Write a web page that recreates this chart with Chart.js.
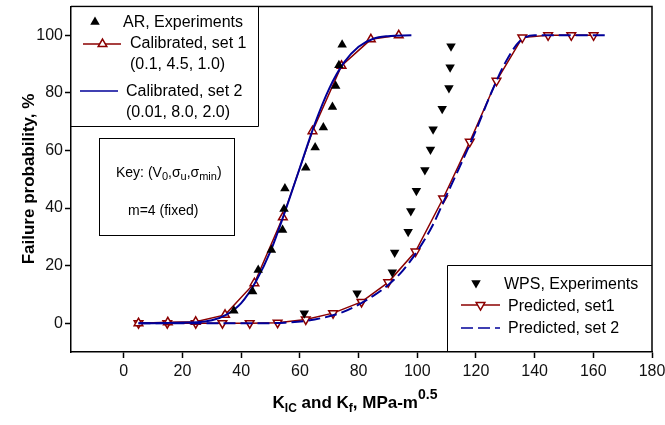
<!DOCTYPE html>
<html lang="en">
  <head>
    <meta charset="UTF-8" />
    <title>Failure probability</title>
    <script src="https://cdn.jsdelivr.net/npm/chart.js"></script>
    <style>
      body { margin: 0; background: #fff; }
      #wrap { width: 665px; height: 425px; }
    </style>
  </head>
  <body>
    <div id="wrap"><canvas id="chart"></canvas></div>
    <script>
      // AR, experiments (filled up triangles)
      const arX = [74.4, 73.3, 72.2, 71.1, 68.0, 65.2, 62.0, 54.9, 54.6, 54.1, 50.3, 45.8, 43.9, 37.5];
      const arY = [96.7, 89.6, 82.4, 75.1, 68.0, 61.0, 54.0, 46.8, 39.7, 32.4, 25.4, 18.5, 11.0, 4.3];

      // Calibrated, set 1 (red, open up triangles)
      const calib1X = [5, 15, 24.5, 34.5, 44.5, 54.2, 64.3, 74.2, 84.2, 93.7];
      const calib1Y = [0, 0.3, 0.5, 2.9, 13.9, 36.8, 66.7, 89.4, 98.6, 100];

      // Calibrated, set 2 (blue solid)
      const calib2X = [5, 25, 30, 35, 40, 45, 50, 55, 60, 65, 70, 75, 80, 85, 90, 98];
      const calib2Y = [0, 0.3, 1, 3, 7, 14.5, 25, 39, 54, 69, 81.5, 90.5, 96, 98.8, 99.7, 100];

      // WPS, experiments (filled down triangles)
      const wpsX = [111.5, 111.2, 110.8, 108.5, 105.4, 104.5, 102.6, 99.7, 97.8, 96.9, 92.3, 91.5, 79.5, 61.5];
      const wpsY = [96.2, 88.9, 81.7, 74.5, 67.4, 60.3, 53.2, 46.0, 39.0, 31.8, 24.6, 17.7, 10.4, 3.5];

      // Predicted, set1 (red, open down triangles)
      const pred1X = [5, 14.8, 24.5, 33.6, 42.9, 52.4, 62, 71.3, 81, 90.1, 99.4, 108.8, 117.9, 127, 135.8, 144.6, 152.5, 160.1];
      const pred1Y = [0, 0, 0, 0, 0, 0.2, 1.3, 3.5, 7.4, 14.2, 24.9, 43.3, 63, 84.2, 99.2, 100, 100, 100];

      // Predicted, set 2 (blue dashed)
      const pred2X = [5, 30, 45, 55, 65, 75, 85, 90, 95, 100, 105, 110, 115, 120, 125, 130, 135, 140, 150, 164];
      const pred2Y = [0, 0, 0, 0.2, 1.3, 4, 9.5, 13.2, 18.2, 25, 33.5, 44.5, 55.5, 67, 79.5, 90.5, 98, 100, 100, 100];

      const xTicks = [0, 20, 40, 60, 80, 100, 120, 140, 160, 180];
      const yTicks = [0, 20, 40, 60, 80, 100];

      const RED = "#8b0000";
      const BLUE = "#000099";
      const FONT = "'Liberation Sans', Arial, sans-serif";

      function pts(xs, ys) {
        return xs.map((x, i) => ({ x: x, y: ys[i] }));
      }

      function tri(ctx, x, y, r, down) {
        const s = down ? -1 : 1;
        const h = r * Math.sin(Math.PI / 3);
        ctx.beginPath();
        ctx.moveTo(x, y - s * r);
        ctx.lineTo(x + h, y + s * r / 2);
        ctx.lineTo(x - h, y + s * r / 2);
        ctx.closePath();
      }

      // text with sub/superscripts, runs = [[text, size, dy, bold]]
      function runsWidth(ctx, runs) {
        let w = 0;
        runs.forEach((r) => {
          ctx.font = (r[3] ? "bold " : "") + r[1] + "px " + FONT;
          w += ctx.measureText(r[0]).width;
        });
        return w;
      }
      function drawRuns(ctx, x, y, runs) {
        runs.forEach((r) => {
          ctx.font = (r[3] ? "bold " : "") + r[1] + "px " + FONT;
          ctx.fillText(r[0], x, y + r[2]);
          x += ctx.measureText(r[0]).width;
        });
      }

      const extras = {
        id: "extras",
        afterDraw(chart) {
          const ctx = chart.ctx;
          const a = chart.chartArea;
          ctx.save();

          // frame top / right
          ctx.strokeStyle = "#000";
          ctx.lineWidth = 1.5;
          ctx.beginPath();
          ctx.moveTo(a.left, a.top);
          ctx.lineTo(a.right, a.top);
          ctx.lineTo(a.right, a.bottom);
          ctx.stroke();

          ctx.fillStyle = "#000";
          ctx.textAlign = "left";
          ctx.textBaseline = "alphabetic";

          // top-left legend
          ctx.fillStyle = "#fff";
          ctx.fillRect(a.left + 1, a.top + 1, 258 - a.left - 1, 126 - a.top - 1);
          ctx.strokeStyle = "#000";
          ctx.lineWidth = 1;
          ctx.beginPath();
          ctx.moveTo(a.left, 126.5);
          ctx.lineTo(258.5, 126.5);
          ctx.lineTo(258.5, a.top);
          ctx.stroke();

          ctx.fillStyle = "#000";
          tri(ctx, 95, 22, 5.5, false);
          ctx.fill();
          ctx.font = "16px " + FONT;
          ctx.fillText("AR, Experiments", 123, 27);

          ctx.strokeStyle = RED;
          ctx.lineWidth = 1.5;
          ctx.beginPath();
          ctx.moveTo(83, 44);
          ctx.lineTo(121, 44);
          ctx.stroke();
          tri(ctx, 102.5, 44, 5, false);
          ctx.fillStyle = "#fff";
          ctx.fill();
          ctx.stroke();
          ctx.fillStyle = "#000";
          ctx.fillText("Calibrated, set 1", 130, 48);
          ctx.fillText("(0.1, 4.5, 1.0)", 130, 69);

          ctx.strokeStyle = BLUE;
          ctx.lineWidth = 1.5;
          ctx.beginPath();
          ctx.moveTo(80, 91);
          ctx.lineTo(118, 91);
          ctx.stroke();
          ctx.fillText("Calibrated, set 2", 126, 96);
          ctx.fillText("(0.01, 8.0, 2.0)", 126, 117);

          // key box
          ctx.strokeStyle = "#000";
          ctx.lineWidth = 1;
          ctx.strokeRect(99.5, 138.5, 135, 97);
          drawRuns(ctx, 116, 177, [
            ["Key: (V", 14, 0],
            ["0", 11, 3],
            [",\u03c3", 14, 0],
            ["u", 11, 3],
            [",\u03c3", 14, 0],
            ["min", 11, 3],
            [")", 14, 0],
          ]);
          ctx.font = "14px " + FONT;
          ctx.fillText("m=4 (fixed)", 128, 215);

          // bottom-right legend
          ctx.fillStyle = "#fff";
          ctx.fillRect(447, 265, a.right - 448, a.bottom - 266);
          ctx.strokeStyle = "#000";
          ctx.lineWidth = 1;
          ctx.beginPath();
          ctx.moveTo(447.5, a.bottom);
          ctx.lineTo(447.5, 265.5);
          ctx.lineTo(a.right, 265.5);
          ctx.stroke();

          ctx.fillStyle = "#000";
          tri(ctx, 476, 283, 5.5, true);
          ctx.fill();
          ctx.font = "16px " + FONT;
          ctx.fillText("WPS, Experiments", 504, 289);

          ctx.strokeStyle = RED;
          ctx.lineWidth = 1.5;
          ctx.beginPath();
          ctx.moveTo(461, 305);
          ctx.lineTo(500, 305);
          ctx.stroke();
          tri(ctx, 480.5, 305, 5, true);
          ctx.fillStyle = "#fff";
          ctx.fill();
          ctx.stroke();
          ctx.fillStyle = "#000";
          ctx.fillText("Predicted, set1", 508, 311);

          ctx.strokeStyle = BLUE;
          ctx.setLineDash([12, 5]);
          ctx.beginPath();
          ctx.moveTo(461, 328);
          ctx.lineTo(500, 328);
          ctx.stroke();
          ctx.setLineDash([]);
          ctx.fillText("Predicted, set 2", 508, 333);

          // axis titles
          const xt = [
            ["K", 17, 0, true],
            ["IC", 12, 4, true],
            [" and K", 17, 0, true],
            ["f", 12, 4, true],
            [", MPa-m", 17, 0, true],
            ["0.5", 14, -9, true],
          ];
          const w = runsWidth(ctx, xt);
          drawRuns(ctx, 355 - w / 2, 408, xt);

          ctx.translate(29, 179);
          ctx.rotate(-Math.PI / 2);
          ctx.textAlign = "center";
          ctx.textBaseline = "middle";
          ctx.font = "bold 17px " + FONT;
          ctx.fillText("Failure probability, %", 0, 0);

          ctx.restore();
        },
      };

      Chart.defaults.font.family = FONT;
      Chart.defaults.color = "#111";

      new Chart(document.getElementById("chart"), {
        type: "scatter",
        data: {
          datasets: [
            {
              label: "AR, Experiments",
              data: pts(arX, arY),
              pointStyle: "triangle",
              pointRadius: 5.5,
              backgroundColor: "#000",
              borderColor: "#000",
              borderWidth: 0,
              order: 0,
            },
            {
              label: "WPS, Experiments",
              data: pts(wpsX, wpsY),
              pointStyle: "triangle",
              pointRotation: 180,
              pointRadius: 5.5,
              backgroundColor: "#000",
              borderColor: "#000",
              borderWidth: 0,
              order: 0,
            },
            {
              label: "Calibrated, set 2",
              data: pts(calib2X, calib2Y),
              showLine: true,
              pointRadius: 0,
              borderColor: BLUE,
              borderWidth: 2,
              cubicInterpolationMode: "monotone",
              order: 1,
            },
            {
              label: "Predicted, set 2",
              data: pts(pred2X, pred2Y),
              showLine: true,
              pointRadius: 0,
              borderColor: BLUE,
              borderWidth: 2,
              borderDash: [12, 5],
              cubicInterpolationMode: "monotone",
              order: 1,
            },
            {
              label: "Calibrated, set 1",
              data: pts(calib1X, calib1Y),
              showLine: true,
              pointStyle: "triangle",
              pointRadius: 5,
              pointBackgroundColor: "#fff",
              pointBorderColor: RED,
              pointBorderWidth: 1.5,
              borderColor: RED,
              borderWidth: 1.5,
              order: 2,
            },
            {
              label: "Predicted, set1",
              data: pts(pred1X, pred1Y),
              showLine: true,
              pointStyle: "triangle",
              pointRotation: 180,
              pointRadius: 5,
              pointBackgroundColor: "#fff",
              pointBorderColor: RED,
              pointBorderWidth: 1.5,
              borderColor: RED,
              borderWidth: 1.5,
              order: 2,
            },
          ],
        },
        options: {
          responsive: true,
          maintainAspectRatio: false,
          animation: false,
          layout: { padding: { top: 2, right: 13, left: 0, bottom: 0 } },
          plugins: {
            legend: { display: false },
            tooltip: { enabled: false },
          },
          scales: {
            x: {
              type: "linear",
              min: -18,
              max: 180,
              afterBuildTicks: (s) => {
                s.ticks = xTicks.map((v) => ({ value: v }));
              },
              afterFit: (s) => {
                s.height = 73;
                s.paddingLeft = 0;
                s.paddingRight = 0;
              },
              grid: { drawOnChartArea: false, tickLength: 6, color: "#000", tickWidth: 1.5 },
              border: { color: "#000", width: 1.5 },
              ticks: { font: { size: 16 }, padding: 4, maxRotation: 0 },
            },
            y: {
              min: -10,
              max: 110,
              afterBuildTicks: (s) => {
                s.ticks = yTicks.map((v) => ({ value: v }));
              },
              afterFit: (s) => {
                s.width = 71;
                s.paddingTop = 0;
                s.paddingBottom = 0;
              },
              grid: { drawOnChartArea: false, tickLength: 6, color: "#000", tickWidth: 1.5 },
              border: { color: "#000", width: 1.5 },
              ticks: { font: { size: 16 }, padding: 2 },
            },
          },
        },
        plugins: [extras],
      });
    </script>
  </body>
</html>
